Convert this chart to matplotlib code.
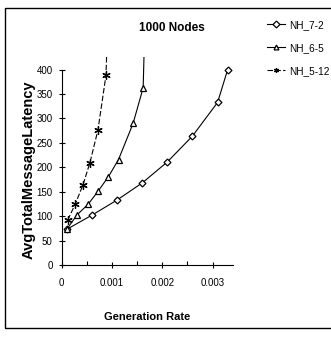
import numpy as np
import matplotlib.pyplot as plt
from matplotlib.patches import Rectangle
from matplotlib.ticker import FixedLocator, FuncFormatter

plt.rcParams['font.family'] = ['Liberation Sans', 'DejaVu Sans']

# data
rate_72 = [0.0001, 0.0006, 0.0011, 0.0016, 0.0021, 0.0026, 0.0031, 0.0033]
lat_72 = [73, 102, 133, 168, 211, 264, 333, 400]

rate_65 = [0.0001, 0.0003, 0.00053, 0.00073, 0.00093, 0.00113, 0.00142, 0.00162, 0.00166]
lat_65 = [73, 102, 125, 152, 181, 216, 290, 363, 520]

rate_512 = [0.00012, 0.00027, 0.00042, 0.00056, 0.00072, 0.00088, 0.00091]
lat_512 = [92, 125, 163, 209, 276, 388, 480]

series = [
    ("NH_7-2", rate_72, lat_72, "D", 3.5, "-"),
    ("NH_6-5", rate_65, lat_65, "^", 5, "-"),
    ("NH_5-12", rate_512, lat_512, (6, 2, 0), 6, (0, (5, 2))),
]

fig = plt.figure(figsize=(3.31, 3.37), dpi=100)
ax = fig.add_axes([0.1864, 0.2136, 0.5166, 0.616])

handles = []
for name, x, y, mk, ms, ls in series:
    h, = ax.plot(x, y, color="black", lw=0.8, ls=ls, marker=mk, ms=ms,
                 mfc="white", mec="black", mew=0.9, label=name)
    handles.append(h)

ax.set_xlim(0, 0.0034)
ax.set_ylim(0, 425)
ax.spines['top'].set_visible(False)
ax.spines['right'].set_visible(False)
ax.spines['left'].set_bounds(0, 400)
ax.spines['left'].set_linewidth(0.8)
ax.spines['bottom'].set_linewidth(0.8)

ax.yaxis.set_major_locator(FixedLocator(np.arange(0, 401, 50)))
ax.xaxis.set_major_locator(FixedLocator([0, 0.001, 0.002, 0.003]))
ax.xaxis.set_minor_locator(FixedLocator([0.0005, 0.0015, 0.0025]))
ax.xaxis.set_major_formatter(FuncFormatter(lambda v, p: "0" if v == 0 else f"{v:.3f}"))
ax.tick_params(axis='both', which='major', direction='inout', length=5, width=0.8,
               labelsize=7, pad=4)
ax.tick_params(axis='x', which='minor', direction='in', length=3, width=0.8)
ax.tick_params(axis='x', which='major', pad=7)

ax.set_xlabel("Generation Rate", fontsize=8, fontweight='bold', labelpad=17)
ax.set_ylabel("AvgTotalMessageLatency", fontsize=10.5, fontweight='bold')
ax.yaxis.set_label_coords(-0.155, 0.457)
fig.text(0.52, 0.918, "1000 Nodes", fontsize=8.5, fontweight='bold', ha='center', va='center')

leg = fig.legend(handles=handles, loc='upper left', bbox_to_anchor=(0.795, 0.953),
                 frameon=False, fontsize=7.2, handlelength=1.8, handletextpad=0.4,
                 labelspacing=1.3, borderaxespad=0)
for h in leg.legend_handles:
    h.set_markersize(3.5)

fig.patches.append(Rectangle((5 / 331, 9 / 337), 1.0, 320 / 337, transform=fig.transFigure,
                             fill=False, ec="black", lw=1.0))

fig.savefig("out.png", dpi=100)
